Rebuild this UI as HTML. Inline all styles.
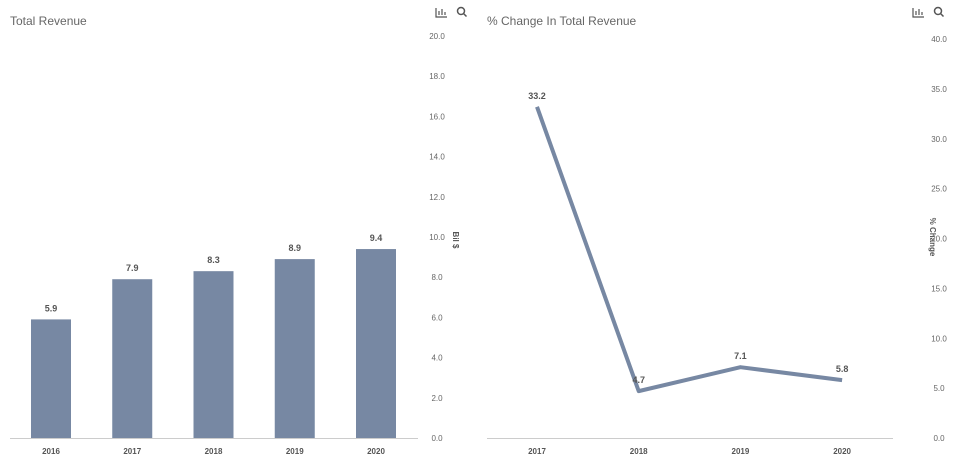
<!DOCTYPE html>
<html><head><meta charset="utf-8"><style>
body{margin:0;background:#fff;font-family:"Liberation Sans",sans-serif}
svg text{font-family:"Liberation Sans",sans-serif}
</style></head><body>
<svg id="c" width="959" height="466" xmlns="http://www.w3.org/2000/svg">
<text x="10" y="25" font-size="12" fill="#666">Total Revenue</text>
<text x="487" y="25" font-size="12" fill="#666">% Change In Total Revenue</text>
<g><path d="M436 8v9h11M439 15v-4M442 15v-6M445 15v-3" stroke="#555" fill="none" stroke-width="1.2"/></g>
<g><circle cx="461" cy="11" r="3.5" stroke="#555" fill="none" stroke-width="1.5"/><path d="M463.5 13.5l3 3" stroke="#555" stroke-width="1.5"/></g>
<g><path d="M913 8v9h11M916 15v-4M919 15v-6M922 15v-3" stroke="#555" fill="none" stroke-width="1.2"/></g>
<g><circle cx="938" cy="11" r="3.5" stroke="#555" fill="none" stroke-width="1.5"/><path d="M940.5 13.5l3 3" stroke="#555" stroke-width="1.5"/></g>
<text transform="translate(453,240) rotate(90)" text-anchor="middle" font-size="8" font-weight="bold" fill="#555">Bil $</text>
<text transform="translate(930,237) rotate(90)" text-anchor="middle" font-size="8" font-weight="bold" fill="#555">% Change</text>
<g id="L"></g><g id="R"></g>
</svg>
<script>
const barYears=["2016","2017","2018","2019","2020"];
const barValues=[5.9,7.9,8.3,8.9,9.4];
const barTicks=["0.0","2.0","4.0","6.0","8.0","10.0","12.0","14.0","16.0","18.0","20.0"];
const lineYears=["2017","2018","2019","2020"];
const lineValues=[33.2,4.7,7.1,5.8];
const lineTicks=["0.0","5.0","10.0","15.0","20.0","25.0","30.0","35.0","40.0"];
const NS="http://www.w3.org/2000/svg";
function mk(p,t,a,txt){const e=document.createElementNS(NS,t);for(const k in a)e.setAttribute(k,a[k]);if(txt!==undefined)e.textContent=txt;p.appendChild(e);return e;}
const L=document.getElementById('L'),R=document.getElementById('R');
const ly=v=>438-v*(402/20), lx=i=>51+i*81.25;
mk(L,'line',{x1:10,x2:418,y1:438.5,y2:438.5,stroke:'#ccc'});
barTicks.forEach(t=>{const e=mk(L,'text',{x:437,y:ly(+t)+3,'text-anchor':'middle','font-size':8,fill:'#666'},t);

});
barValues.forEach((v,i)=>{
const b=mk(L,'rect',{x:lx(i)-20,y:ly(v),width:40,height:438-ly(v),fill:'#7788a3'});


const l=mk(L,'text',{x:lx(i),y:ly(v)-8,'text-anchor':'middle','font-size':9,'font-weight':'bold',fill:'#555'},v.toFixed(1));


const x=mk(L,'text',{x:lx(i),y:454,'text-anchor':'middle','font-size':8,'font-weight':'bold',fill:'#555'},barYears[i]);

});
const ry=v=>438-v*(399/40), rx=i=>537+i*101.7;
mk(R,'line',{x1:487,x2:893,y1:438.5,y2:438.5,stroke:'#ccc'});
lineTicks.forEach(t=>{const e=mk(R,'text',{x:939,y:ry(+t)+3,'text-anchor':'middle','font-size':8,fill:'#666'},t);

});
const pl=mk(R,'polyline',{points:lineValues.map((v,i)=>rx(i)+','+ry(v)).join(' '),fill:'none',stroke:'#7788a3','stroke-width':4,'stroke-linejoin':'round'});


lineValues.forEach((v,i)=>{
const l=mk(R,'text',{x:rx(i),y:ry(v)-8,'text-anchor':'middle','font-size':9,'font-weight':'bold',fill:'#555'},v.toFixed(1));


const x=mk(R,'text',{x:rx(i),y:454,'text-anchor':'middle','font-size':8,'font-weight':'bold',fill:'#555'},lineYears[i]);

});
</script>
</body></html>
